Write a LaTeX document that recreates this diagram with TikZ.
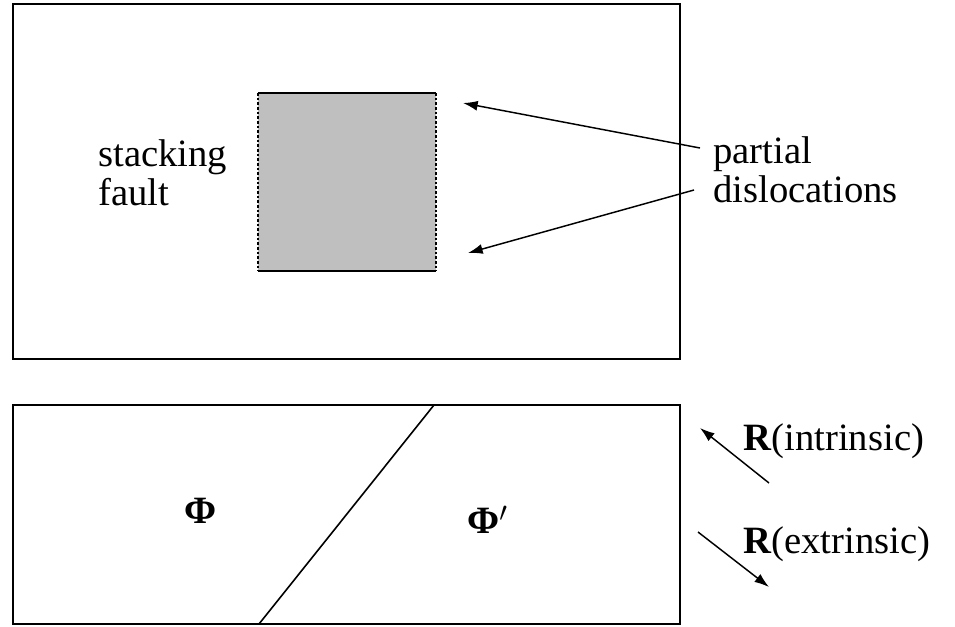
\documentclass[tikz,border=0pt]{standalone}
\usepackage{fontspec}
\setmainfont{Liberation Serif}
\usetikzlibrary{arrows.meta}
\tikzstyle{frame} = [draw=black, line width=1.6pt]
\tikzstyle{lbl} = [inner sep=0pt, anchor=base west, align=left, font=\fontsize{29}{29}\selectfont]
\tikzstyle{ptr} = [draw=black, line width=1.1pt, -{Latex[length=11pt,width=7.5pt]}]

\begin{document}
\begin{tikzpicture}[x=0.75pt, y=-0.75pt]
\useasboundingbox (0,0) rectangle (955,626);

% Define nodes
\coordinate (tl) at (13,4);
\coordinate (br) at (680,359);
\coordinate (bl) at (13,405);
\coordinate (bbr) at (680,624);

\fill[black!25] (258,93) rectangle (436,271);
\coordinate (sqa) at (258,93);
\coordinate (sqb) at (436,93);
\coordinate (sqc) at (436,271);
\coordinate (sqd) at (258,271);

\node[lbl] (sf) at (98,205) {stacking\\fault};
\node[lbl] (pd) at (713,202) {partial\\dislocations};

\coordinate (up) at (700,148);
\coordinate (upt) at (463,103);
\coordinate (lo) at (694,190);
\coordinate (lot) at (468,253);

\coordinate (bnd1) at (434,405);
\coordinate (bnd2) at (259,624);

\node[font=\fontsize{29}{29}\selectfont, inner sep=0pt] (phi) at (201,511) {\textbf{Φ}};
\node[font=\fontsize{29}{29}\selectfont, inner sep=0pt, anchor=west] (phip) at (467,520) {\textbf{Φ}$'$};

\node[lbl] (ri) at (743,450) {\textbf{R}(intrinsic)};
\node[lbl] (re) at (743,553) {\textbf{R}(extrinsic)};

\coordinate (ia) at (769,483);
\coordinate (ib) at (700,428);
\coordinate (ea) at (698,532);
\coordinate (eb) at (769,587);

% Edges
\draw[frame] (tl) rectangle (br);
\draw[frame] (bl) rectangle (bbr);
\draw[line width=1.4pt] (sqa) -- (sqb);
\draw[line width=1.4pt] (sqd) -- (sqc);
\draw[line width=1.2pt, dash pattern=on 2pt off 1.5pt] (sqa) -- (sqd);
\draw[line width=1.2pt, dash pattern=on 2pt off 1.5pt] (sqb) -- (sqc);
\draw[ptr] (up) -- (upt);
\draw[ptr] (lo) -- (lot);
\draw[line width=1.2pt] (bnd1) -- (bnd2);
\draw[ptr] (ia) -- (ib);
\draw[ptr] (ea) -- (eb);
\end{tikzpicture}
\end{document}
